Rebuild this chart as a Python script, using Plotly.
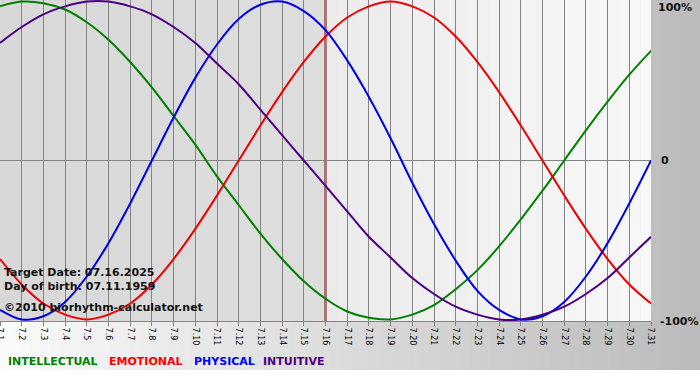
import plotly.graph_objects as go

LABELS = ["7.1", "7.2", "7.3", "7.4", "7.5", "7.6", "7.7", "7.8", "7.9", "7.10",
          "7.11", "7.12", "7.13", "7.14", "7.15", "7.16", "7.17", "7.18", "7.19", "7.20",
          "7.21", "7.22", "7.23", "7.24", "7.25", "7.26", "7.27", "7.28", "7.29", "7.30", "7.31"]
INTELLECTUAL = [0.97, 1.00, 0.99, 0.95, 0.87, 0.76, 0.62, 0.46, 0.28, 0.10,
                -0.10, -0.28, -0.46, -0.62, -0.76, -0.87, -0.95, -0.99, -1.00, -0.97,
                -0.91, -0.81, -0.69, -0.54, -0.37, -0.19, 0.00, 0.19, 0.37, 0.54, 0.69]
EMOTIONAL = [-0.62, -0.78, -0.90, -0.97, -1.00, -0.97, -0.90, -0.78, -0.62, -0.43,
             -0.22, 0.00, 0.22, 0.43, 0.62, 0.78, 0.90, 0.97, 1.00, 0.97,
             0.90, 0.78, 0.62, 0.43, 0.22, 0.00, -0.22, -0.43, -0.62, -0.78, -0.90]
PHYSICAL = [-0.94, -1.00, -0.98, -0.89, -0.73, -0.52, -0.27, 0.00, 0.27, 0.52,
            0.73, 0.89, 0.98, 1.00, 0.94, 0.82, 0.63, 0.40, 0.14, -0.14,
            -0.40, -0.63, -0.82, -0.94, -1.00, -0.98, -0.89, -0.73, -0.52, -0.27, 0.00]
INTUITIVE = [0.74, 0.84, 0.92, 0.97, 1.00, 1.00, 0.97, 0.92, 0.84, 0.74,
             0.61, 0.48, 0.32, 0.16, 0.00, -0.16, -0.32, -0.48, -0.61, -0.74,
             -0.84, -0.92, -0.97, -1.00, -1.00, -0.97, -0.92, -0.84, -0.74, -0.61, -0.48]
SERIES_NAMES = ["INTELLECTUAL", "EMOTIONAL", "PHYSICAL", "INTUITIVE"]
TARGET_LABEL = "7.16"
INFO_LINES = ["Target Date: 07.16.2025", "Day of birth: 07.11.1959", "\u00a92010 biorhythm-calculator.net"]
Y_TICK_TEXT = ["100%", "0", "-100%"]

W, H = 700, 380
PLOT_W, PLOT_H = 651, 321
FONT = "DejaVu Sans"

LINE_COLORS = ["#008000", "#ee0000", "#0000e6", "#4b0082"]
LEGEND_COLORS = ["#008000", "#ff0000", "#0000ff", "#4b0082"]

fig = go.Figure()
for name, vals, col in zip(SERIES_NAMES, [INTELLECTUAL, EMOTIONAL, PHYSICAL, INTUITIVE], LINE_COLORS):
    fig.add_trace(go.Scatter(x=LABELS, y=vals, name=name, mode="lines",
                             line=dict(color=col, width=2, shape="spline", smoothing=1.0),
                             showlegend=False, hoverinfo="skip"))

shapes = []


def px_to_paper_x(px):
    return px / PLOT_W


def py_to_paper_y(py):
    return 1 - py / PLOT_H


# page background gradient (light on left -> gray on right), white strip at bottom
N = 70
for i in range(N):
    x0 = W * i / N
    x1 = W * (i + 1) / N + 0.5
    t = (i + 0.5) / N
    g = int(round(250 - (250 - 187) * t))
    shapes.append(dict(type="rect", xref="paper", yref="paper",
                       x0=px_to_paper_x(x0), x1=px_to_paper_x(x1),
                       y0=py_to_paper_y(370), y1=py_to_paper_y(0),
                       fillcolor=f"rgb({g},{g},{g})", line=dict(width=0), layer="below"))

# plot area fill: past (gray) and future (lighter gradient)
ti = LABELS.index(TARGET_LABEL)
NP = 15
for i in range(NP):
    a = ti * i / NP
    b = ti * (i + 1) / NP + 0.02
    t = (i + 0.5) / NP
    g = int(round(216 + 6 * t))
    shapes.append(dict(type="rect", xref="x", yref="paper", x0=a, x1=b, y0=0, y1=1,
                       fillcolor=f"rgb({g},{g},{g})", line=dict(width=0), layer="below"))
last = len(LABELS) - 1
NF = 30
for i in range(NF):
    a = ti + (last - ti) * i / NF
    b = ti + (last - ti) * (i + 1) / NF + 0.02
    t = (i + 0.5) / NF
    g = int(round(235 + 13 * t))
    shapes.append(dict(type="rect", xref="x", yref="paper", x0=a, x1=b, y0=0, y1=1,
                       fillcolor=f"rgb({g},{g},{g})", line=dict(width=0), layer="below"))

# target date line
shapes.append(dict(type="line", xref="x", yref="paper", x0=ti, x1=ti, y0=0, y1=1,
                   line=dict(color="#6e0c0c", width=2), layer="between"))

annotations = []
info_y = [272, 286, 307]
for txt, py in zip(INFO_LINES, info_y):
    annotations.append(dict(text=txt, xref="paper", yref="paper", x=px_to_paper_x(2),
                            y=py_to_paper_y(py), xanchor="left", yanchor="middle",
                            showarrow=False, font=dict(family=FONT, size=11, color="#111111", weight="bold")))

legend_x = [6, 107, 192, 261]
for name, col, lx in zip(SERIES_NAMES, LEGEND_COLORS, legend_x):
    annotations.append(dict(text=name, xref="paper", yref="paper", x=px_to_paper_x(lx),
                            y=py_to_paper_y(362), xanchor="left", yanchor="middle",
                            showarrow=False, font=dict(family=FONT, size=11, color=col, weight="bold")))

ylab_pos = [(656, 7), (659, 161), (658, 322)]
for txt, (lx, py) in zip(Y_TICK_TEXT, ylab_pos):
    annotations.append(dict(text=txt, xref="paper", yref="paper", x=px_to_paper_x(lx),
                            y=py_to_paper_y(py), xanchor="left", yanchor="middle",
                            showarrow=False, font=dict(family=FONT, size=11, color="#111111", weight="bold")))

fig.update_layout(
    width=W, height=H, autosize=False,
    margin=dict(l=0, r=W - PLOT_W, t=0, b=H - PLOT_H, pad=0, autoexpand=False),
    paper_bgcolor="#ffffff", plot_bgcolor="rgba(0,0,0,0)",
    shapes=shapes, annotations=annotations,
    xaxis=dict(type="category", categoryorder="array", categoryarray=LABELS,
               range=[0, last], showgrid=True, gridcolor="#848484", gridwidth=1,
               showline=True, linecolor="#848484", linewidth=1, mirror=True,
               ticks="outside", ticklen=4, tickcolor="#848484",
               tickangle=90, tickfont=dict(family=FONT, size=8, color="#000000"),
               zeroline=False, fixedrange=True, automargin=False),
    yaxis=dict(range=[-1.01, 1.01], showgrid=False, zeroline=True, zerolinecolor="#848484",
               zerolinewidth=1, showticklabels=False, ticks="", showline=False, fixedrange=True,
               automargin=False),
    showlegend=False,
)

fig.write_html("out.html", config={"displayModeBar": False},
               post_script="document.body.style.margin='0';document.body.style.padding='0';")
